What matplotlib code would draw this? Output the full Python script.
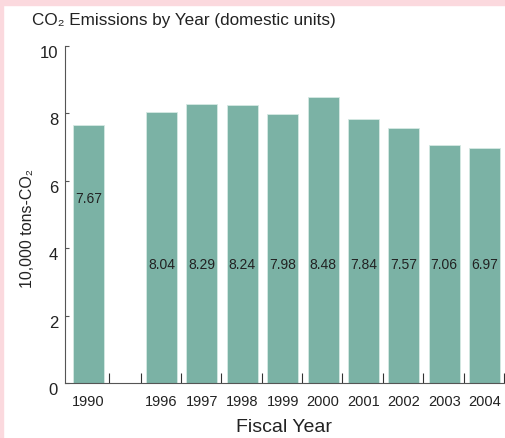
import matplotlib
matplotlib.use('Agg')
import matplotlib.pyplot as plt
from matplotlib.patches import Rectangle
import numpy as np

plt.rcParams['font.family'] = ['Liberation Sans', 'DejaVu Sans']

# CO2 emissions (10,000 tons-CO2) by fiscal year
years = ['1990', '1996', '1997', '1998', '1999', '2000', '2001', '2002', '2003', '2004']
emissions = [7.67, 8.04, 8.29, 8.24, 7.98, 8.48, 7.84, 7.57, 7.06, 6.97]

bar_color = '#7bb2a5'
text_color = '#222222'
axis_color = '#555555'

# 1990 sits apart from the continuous 1996-2004 run
xpos = np.array([-0.805] + list(range(1, len(years))))
slot_edges = [-0.30] + [k + 0.48 for k in range(0, len(years))]

fig = plt.figure(figsize=(5.06, 4.38), dpi=100)
ax = fig.add_axes([65 / 506, 1 - 383 / 438, 439 / 506, 337 / 438])

ax.bar(xpos, emissions, width=0.765, color=bar_color,
       edgecolor='#d6e9e3', linewidth=0.6)

# value labels inside the bars
for i, (x, v) in enumerate(zip(xpos, emissions)):
    y_lab = 5.45 if i == 0 else 3.5
    ax.text(x, y_lab, f'{v:.2f}', ha='center', va='center',
            fontsize=10, color=text_color)

ax.set_xlim(-1.39, 9.48)
ax.set_ylim(0, 10)

ax.set_yticks([0, 2, 4, 6, 8, 10])
ax.tick_params(axis='y', direction='in', length=3, width=0.8, color=axis_color,
               labelsize=12, labelcolor=text_color, pad=5)
for lab in ax.get_yticklabels():
    lab.set_verticalalignment('top')

ax.set_xticks(xpos)
ax.set_xticklabels(years)
ax.set_xticks(slot_edges, minor=True)
ax.tick_params(axis='x', which='major', length=0, labelsize=10.5,
               labelcolor=text_color, pad=9)
ax.tick_params(axis='x', which='minor', direction='in', length=7.5,
               width=0.8, color='#333333')

for side in ['top', 'right']:
    ax.spines[side].set_visible(False)
for side in ['left', 'bottom']:
    ax.spines[side].set_color(axis_color)
    ax.spines[side].set_linewidth(0.8)

fig.text(32 / 506, 1 - 21 / 438, 'CO₂ Emissions by Year (domestic units)',
         ha='left', va='center', fontsize=12.3, color=text_color)
fig.text(28 / 506, 1 - 229 / 438, '10,000 tons-CO₂', rotation=90,
         ha='center', va='center', fontsize=11.5, color=text_color)
fig.text(284.5 / 506, 1 - 428 / 438, 'Fiscal Year', ha='center', va='center',
         fontsize=14, color=text_color)

# pink frame strips along the top and left edges
fig.patches.append(Rectangle((0, 1 - 5 / 438), 1, 5 / 438, transform=fig.transFigure,
                             color='#fbd9de', zorder=0))
fig.patches.append(Rectangle((0, 0), 3 / 506, 1, transform=fig.transFigure,
                             color='#fbd9de', zorder=0))

fig.savefig('out.png', dpi=100)
